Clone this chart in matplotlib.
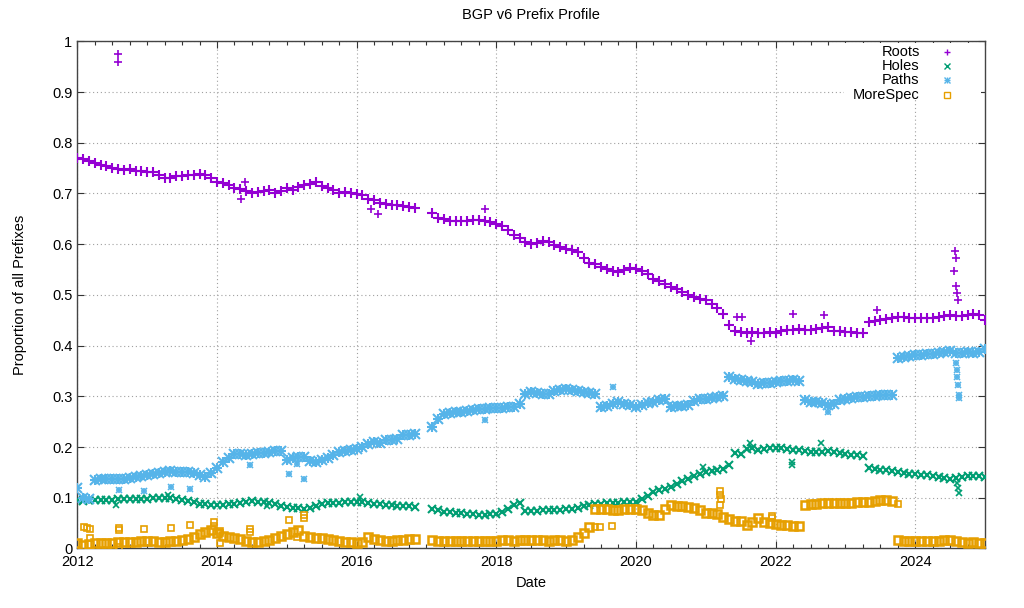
import numpy as np
import matplotlib
matplotlib.use("Agg")
import matplotlib.pyplot as plt
from matplotlib.patches import Rectangle
from matplotlib.ticker import MultipleLocator

plt.rcParams['font.family'] = ['Liberation Sans', 'DejaVu Sans']

nan = np.nan

# monthly samples, Jan 2012 .. Jan 2025
roots = [
  0.769, 0.767, 0.764, 0.760, 0.757, 0.754, 0.750, 0.748, 0.746, 0.748, 0.745, 0.744,
  0.743, 0.742, 0.737, 0.731, 0.731, 0.735, 0.734, 0.736, 0.737, 0.739, 0.737, 0.730,
  0.723, 0.720, 0.717, 0.711, 0.708, 0.704, 0.700, 0.702, 0.704, 0.707, 0.700, 0.705,
  0.710, 0.706, 0.712, 0.716, 0.719, 0.723, 0.714, 0.710, 0.706, 0.701, 0.703, 0.700,
  0.699, 0.697, 0.690, 0.687, 0.682, 0.680, 0.678, 0.677, 0.676, 0.674, 0.672, nan,
  nan, 0.662, 0.652, 0.649, 0.646, 0.645, 0.645, 0.646, 0.647, 0.647, 0.645, 0.643,
  0.640, 0.635, 0.627, 0.618, 0.612, 0.605, 0.600, 0.602, 0.606, 0.605, 0.598, 0.594,
  0.591, 0.588, 0.584, 0.572, 0.563, 0.560, 0.555, 0.551, 0.548, 0.545, 0.549, 0.553,
  0.552, 0.548, 0.542, 0.532, 0.528, 0.522, 0.516, 0.512, 0.506, 0.499, 0.496, 0.492,
  0.490, 0.483, 0.475, 0.463, 0.440, 0.428, 0.427, 0.425, 0.427, 0.424, 0.425, 0.427,
  0.424, 0.428, 0.430, 0.431, 0.432, 0.430, 0.431, 0.433, 0.435, 0.437, 0.428, 0.428,
  0.427, 0.427, 0.425, 0.424, 0.447, 0.449, 0.450, 0.452, 0.455, 0.457, 0.456, 0.455,
  0.454, 0.455, 0.455, 0.455, 0.457, 0.458, 0.460, 0.458, 0.459, 0.460, 0.462, 0.461,
  0.450,
]
holes = [
  0.095, 0.094, 0.095, 0.095, 0.096, 0.096, 0.096, 0.097, 0.097, 0.098, 0.098, 0.098,
  0.098, 0.099, 0.100, 0.100, 0.099, 0.097, 0.095, 0.093, 0.091, 0.088, 0.087, 0.086,
  0.085, 0.086, 0.087, 0.088, 0.089, 0.091, 0.093, 0.092, 0.091, 0.090, 0.087, 0.084,
  0.082, 0.080, 0.079, 0.078, 0.080, 0.084, 0.088, 0.089, 0.090, 0.090, 0.091, 0.092,
  0.092, 0.091, 0.089, 0.088, 0.087, 0.086, 0.085, 0.084, 0.083, 0.083, 0.081, nan,
  nan, 0.077, 0.075, 0.072, 0.071, 0.070, 0.069, 0.068, 0.067, 0.065, 0.066, 0.067,
  0.067, 0.072, 0.078, 0.086, 0.090, 0.074, 0.074, 0.074, 0.075, 0.075, 0.076, 0.076,
  0.077, 0.078, 0.080, 0.083, 0.085, 0.087, 0.088, 0.089, 0.090, 0.090, 0.091, 0.091,
  0.092, 0.097, 0.104, 0.111, 0.115, 0.118, 0.121, 0.127, 0.132, 0.137, 0.142, 0.147,
  0.151, 0.152, 0.154, 0.156, 0.165, 0.188, 0.187, 0.197, 0.199, 0.195, 0.197, 0.198,
  0.199, 0.198, 0.196, 0.195, 0.194, 0.192, 0.190, 0.190, 0.191, 0.192, 0.190, 0.188,
  0.186, 0.185, 0.184, 0.183, 0.159, 0.157, 0.155, 0.154, 0.152, 0.151, 0.149, 0.147,
  0.146, 0.145, 0.144, 0.143, 0.141, 0.139, 0.136, 0.139, 0.141, 0.143, 0.142, 0.142,
  0.141,
]
paths = [
  0.120, 0.100, 0.098, 0.134, 0.136, 0.137, 0.137, 0.136, 0.137, 0.138, 0.140, 0.142,
  0.144, 0.146, 0.148, 0.151, 0.152, 0.151, 0.151, 0.150, 0.148, 0.144, 0.140, 0.148,
  0.158, 0.170, 0.178, 0.187, 0.186, 0.185, 0.187, 0.188, 0.189, 0.190, 0.192, 0.193,
  0.175, 0.178, 0.180, 0.180, 0.172, 0.170, 0.174, 0.178, 0.184, 0.190, 0.193, 0.195,
  0.197, 0.200, 0.205, 0.210, 0.207, 0.213, 0.213, 0.216, 0.223, 0.223, 0.226, nan,
  nan, 0.240, 0.256, 0.266, 0.267, 0.269, 0.270, 0.271, 0.272, 0.274, 0.275, 0.276,
  0.276, 0.277, 0.278, 0.279, 0.285, 0.305, 0.309, 0.306, 0.305, 0.305, 0.310, 0.313,
  0.315, 0.313, 0.311, 0.309, 0.307, 0.305, 0.279, 0.280, 0.285, 0.289, 0.285, 0.282,
  0.279, 0.283, 0.286, 0.289, 0.292, 0.295, 0.279, 0.280, 0.281, 0.282, 0.290, 0.295,
  0.295, 0.297, 0.299, 0.300, 0.338, 0.335, 0.332, 0.330, 0.328, 0.325, 0.326, 0.327,
  0.328, 0.330, 0.331, 0.332, 0.330, 0.292, 0.289, 0.289, 0.287, 0.282, 0.285, 0.292,
  0.295, 0.297, 0.298, 0.299, 0.300, 0.301, 0.302, 0.302, 0.302, 0.376, 0.378, 0.380,
  0.381, 0.382, 0.383, 0.384, 0.386, 0.388, 0.390, 0.385, 0.386, 0.387, 0.386, 0.388,
  0.394,
]
morespec = [
  0.010, 0.006, 0.008, 0.010, 0.011, 0.011, 0.011, 0.012, 0.012, 0.013, 0.013, 0.014,
  0.015, 0.014, 0.013, 0.013, 0.014, 0.015, 0.016, 0.018, 0.022, 0.029, 0.033, 0.036,
  0.030, 0.025, 0.022, 0.020, 0.018, 0.015, 0.013, 0.013, 0.014, 0.016, 0.020, 0.025,
  0.029, 0.033, 0.036, 0.025, 0.022, 0.021, 0.020, 0.018, 0.016, 0.015, 0.013, 0.012,
  0.010, 0.012, 0.023, 0.018, 0.016, 0.015, 0.015, 0.016, 0.017, 0.018, 0.018, nan,
  nan, 0.016, 0.015, 0.015, 0.015, 0.014, 0.015, 0.015, 0.015, 0.015, 0.015, 0.015,
  0.015, 0.016, 0.016, 0.015, 0.016, 0.016, 0.016, 0.017, 0.016, 0.015, 0.016, 0.016,
  0.015, 0.016, 0.022, 0.030, 0.042, 0.078, 0.078, 0.077, 0.076, 0.076, 0.077, 0.078,
  0.078, 0.075, 0.070, 0.066, 0.065, 0.078, 0.085, 0.084, 0.083, 0.082, 0.079, 0.075,
  0.069, 0.069, 0.068, 0.062, 0.058, 0.055, 0.054, 0.047, 0.052, 0.059, 0.053, 0.050,
  0.049, 0.047, 0.046, 0.045, 0.044, 0.085, 0.087, 0.088, 0.089, 0.090, 0.090, 0.089,
  0.089, 0.090, 0.091, 0.091, 0.092, 0.093, 0.095, 0.095, 0.093, 0.016, 0.015, 0.015,
  0.014, 0.014, 0.015, 0.015, 0.015, 0.016, 0.016, 0.014, 0.013, 0.011, 0.012, 0.011,
  0.011,
]

# stray samples away from the main bands
roots_out_x = [2012.58, 2012.58, 2014.35, 2014.40, 2016.20, 2016.30, 2017.84, 2021.45,
               2021.52, 2021.65, 2022.25, 2022.70, 2023.45, 2024.57, 2024.58, 2024.56,
               2024.59, 2024.60, 2024.61]
roots_out_y = [0.975, 0.960, 0.690, 0.723, 0.670, 0.660, 0.669, 0.457, 0.457, 0.409,
               0.462, 0.460, 0.470, 0.586, 0.573, 0.548, 0.517, 0.503, 0.490]
holes_out_x = [2012.55, 2013.30, 2014.71, 2016.05, 2020.96, 2021.63, 2022.23, 2022.23,
               2022.65, 2024.60, 2024.61, 2024.62]
holes_out_y = [0.085, 0.105, 0.083, 0.101, 0.160, 0.208, 0.171, 0.165, 0.207, 0.129,
               0.119, 0.109]
paths_out_x = [2012.59, 2012.95, 2013.34, 2013.62, 2014.47, 2015.03, 2015.15, 2015.24,
               2017.84, 2019.67, 2022.75, 2024.59, 2024.60, 2024.60, 2024.61, 2024.62,
               2024.62]
paths_out_y = [0.115, 0.114, 0.121, 0.118, 0.164, 0.147, 0.167, 0.137, 0.253, 0.318,
               0.269, 0.365, 0.352, 0.339, 0.323, 0.303, 0.296]
more_out_x = [2012.10, 2012.14, 2012.18, 2012.18, 2012.59, 2012.59, 2012.60, 2012.95,
              2013.34, 2013.62, 2013.96, 2013.96, 2014.04, 2014.04, 2014.04, 2014.47,
              2014.47, 2015.03, 2015.15, 2015.24, 2015.24, 2019.42, 2019.48, 2019.65,
              2021.20, 2021.21, 2021.22, 2021.20, 2021.95, 2021.95, 2023.75]
more_out_y = [0.042, 0.040, 0.038, 0.020, 0.040, 0.036, 0.003, 0.039, 0.041, 0.046,
              0.052, 0.045, 0.035, 0.030, 0.010, 0.039, 0.033, 0.057, 0.023, 0.065,
              0.060, 0.043, 0.042, 0.044, 0.113, 0.105, 0.098, 0.085, 0.063, 0.060,
              0.088]

years = 2012 + np.arange(len(roots)) / 12.0

C_ROOTS = "#9400D3"
C_HOLES = "#009E73"
C_PATHS = "#56B4E9"
C_MORE = "#E69F00"

# gnuplot point types: + , x , * (plus over cross), open square
SERIES = [
  ("Roots", roots, roots_out_x, roots_out_y,
   [dict(marker="+", color=C_ROOTS, mew=1.5)], 7.0),
  ("Holes", holes, holes_out_x, holes_out_y,
   [dict(marker="x", color=C_HOLES, mew=1.5)], 5.8),
  ("Paths", paths, paths_out_x, paths_out_y,
   [dict(marker="+", color=C_PATHS, mew=1.5), dict(marker="x", color=C_PATHS, mew=1.5)], 6.5),
  ("MoreSpec", morespec, more_out_x, more_out_y,
   [dict(marker="s", color=C_MORE, mfc="none", mew=1.8)], 5.3),
]

fig = plt.figure(figsize=(10.24, 6.08), dpi=100)
ax = fig.add_axes([0.0755, 0.098, 0.8865, 0.834])

for name, vals, ox, oy, styles, ms in SERIES:
  for st in styles:
    ax.plot(years, vals, linestyle="none", markersize=ms, zorder=3, **st)
    ax.plot(ox, oy, linestyle="none", markersize=ms * 0.75, zorder=3, **dict(st, mew=1.2))

ax.set_xlim(2012, 2025)
ax.set_ylim(0, 1)
ax.set_xticks(np.arange(2012, 2025, 2))
ax.set_xticklabels([str(y) for y in range(2012, 2025, 2)])
ax.xaxis.set_minor_locator(MultipleLocator(0.25))
ax.set_yticks(np.arange(0, 1.01, 0.1))
ax.set_yticklabels(["0", "0.1", "0.2", "0.3", "0.4", "0.5", "0.6", "0.7", "0.8", "0.9", "1"])
ax.tick_params(which="both", direction="in", top=True, right=True, labelsize=10.5,
               colors="#333333", labelcolor="black")
ax.tick_params(axis="x", pad=5)
ax.tick_params(which="major", length=5, width=0.8)
ax.tick_params(which="minor", length=3, width=0.8)
for sp in ax.spines.values():
  sp.set_color("#444444")
  sp.set_linewidth(1.0)
ax.set_axisbelow(True)
ax.grid(True, which="major", linestyle=(0, (1, 2.5)), color="#a0a0a0", linewidth=0.8)

ax.set_title("BGP v6 Prefix Profile", fontsize=10.5, pad=16)
ax.set_xlabel("Date", fontsize=10.5, labelpad=5)
ax.set_ylabel("Proportion of all Prefixes", fontsize=10.5, labelpad=18)

# key, opaque like gnuplot
ax.add_patch(Rectangle((0.845, 0.885), 0.15, 0.112, transform=ax.transAxes,
                       facecolor="white", edgecolor="none", zorder=2))
key_y = [0.979, 0.951, 0.923, 0.895]
for (name, vals, ox, oy, styles, ms), ky in zip(SERIES, key_y):
  ax.text(0.928, ky, name, transform=ax.transAxes, ha="right", va="center",
          fontsize=10.5, zorder=4)
  for st in styles:
    ax.plot([0.958], [ky], transform=ax.transAxes, linestyle="none", markersize=5,
            zorder=4, clip_on=False, **dict(st, mew=1.0))

fig.savefig("out.png", dpi=100)
